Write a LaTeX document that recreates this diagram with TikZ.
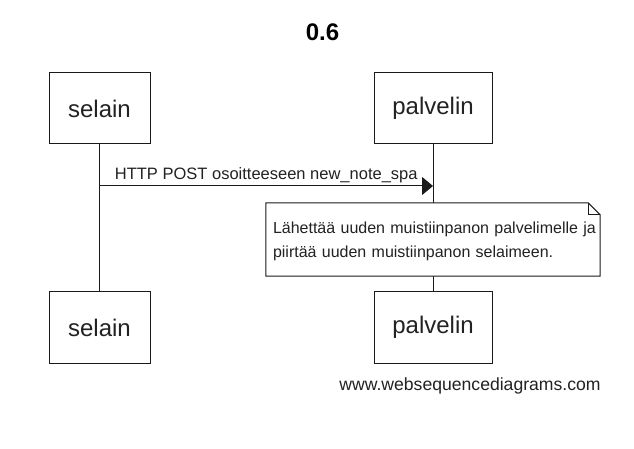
\documentclass[tikz,border=0pt]{standalone}
\usepackage{fontspec}
\setmainfont{Liberation Sans}
\usetikzlibrary{arrows.meta}
\definecolor{ink}{HTML}{222222}
\definecolor{linec}{HTML}{1A1A1A}
\begin{document}
\begin{tikzpicture}[x=1bp,y=-1bp,
  actor/.style={draw=linec, line width=1bp, fill=white, inner sep=0pt,
    minimum height=71bp, text=ink, font=\fontsize{24bp}{28bp}\selectfont},
  lifeline/.style={draw=linec, line width=1bp},
  msg/.style={draw=linec, line width=1bp, -{Triangle[length=11bp,width=18bp]}},
  msglabel/.style={text=ink, font=\fontsize{16.5bp}{19bp}\selectfont, inner sep=2.5bp},
  noteshape/.style={inner sep=0pt, minimum width=334bp, minimum height=73bp},
  notetextstyle/.style={inner xsep=7bp, inner ysep=0pt, text width=320bp,
    text=ink, font=\fontsize{16bp}{24bp}\selectfont, align=left},
  notelines/.style={draw=linec, line width=1bp, fill=white},
  small/.style={text=ink, font=\fontsize{17.6bp}{20bp}\selectfont},
  titletext/.style={text=black, font=\fontsize{24bp}{28bp}\selectfont\bfseries}]
\useasboundingbox (0,0) rectangle (634,449);
\fill[white] (0,0) rectangle (634,449);

\node[titletext] (title) at (322.5,32) {0.6};

% lifelines
\coordinate (selainTop) at (99.5,144);
\coordinate (selainBot) at (99.5,292);
\coordinate (palvTop) at (433,143);
\coordinate (palvBot) at (433,292);
\draw[lifeline] (selainTop) -- (selainBot);
\draw[lifeline] (palvTop) -- (palvBot);

% actors
\node[actor, minimum width=101bp] (selainA) at (99.5,108.5) {selain};
\node[actor, minimum width=118bp] (palvA) at (433,108) {palvelin};
\node[actor, minimum width=101bp] (selainB) at (99.5,327.5) {selain};
\node[actor, minimum width=118bp] (palvB) at (433,327.5) {palvelin};

% message
\coordinate (m1) at (99.5,186);
\coordinate (m2) at (433,186);
\draw[msg] (m1) -- node[msglabel, above] (msgtext) {HTTP POST osoitteeseen new\_note\_spa} (m2);

% note
\node[noteshape] (note) at (433,239.5) {};
\draw[notelines] (note.north west) -- ([xshift=-12bp]note.north east) -- ([yshift=-12bp]note.north east) -- (note.south east) -- (note.south west) -- cycle;
\draw[linec, line width=1bp] ([xshift=-12bp]note.north east) -- ([xshift=-12bp,yshift=-12bp]note.north east) -- ([yshift=-12bp]note.north east);
\node[notetextstyle, anchor=west] (notetext) at ([yshift=-2bp]note.west) {\mbox{Lähettää uuden muistiinpanon palvelimelle ja}\\\mbox{piirtää uuden muistiinpanon selaimeen.}};

% footer
\node[small] (footer) at (470,386) {www.websequencediagrams.com};
\end{tikzpicture}
\end{document}
